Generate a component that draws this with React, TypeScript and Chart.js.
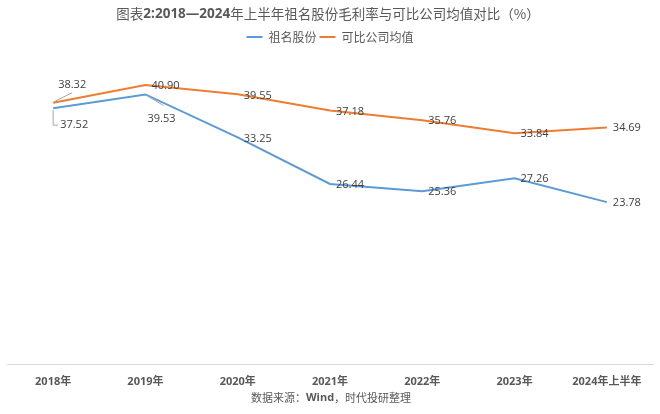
import React, { useEffect, useRef } from 'react';
import { Chart, registerables, layouts } from 'chart.js';

Chart.register(...registerables);

// ---- Data ----
const categories = ['2018年', '2019年', '2020年', '2021年', '2022年', '2023年', '2024年上半年'];
const seriesNames = ['祖名股份', '可比公司均值'];
const zumingValues = [37.52, 39.53, 33.25, 26.44, 25.36, 27.26, 23.78];
const peerAvgValues = [38.32, 40.9, 39.55, 37.18, 35.76, 33.84, 34.69];
const yMin = 0;
const yMax = 45;

const titleRuns = [
  { text: '图表', bold: false },
  { text: '2:2018—2024', bold: true },
  { text: '年上半年祖名股份毛利率与可比公司均值对比（%）', bold: false },
];
const sourceRuns = [
  { text: '数据来源：', bold: false },
  { text: 'Wind', bold: true },
  { text: '，时代投研整理', bold: false },
];

// ---- Styles ----
const CJK = '"Noto Sans CJK SC", "Noto Sans", sans-serif';
const LATIN = '"Open Sans", "Noto Sans CJK SC", sans-serif';
const TEXT_GRAY = '#595959';
const LABEL_GRAY = '#404040';
const LEADER_GRAY = '#a6a6a6';
const COLORS = ['#5B9BD5', '#ED7D31'];

// label offsets [dx, dy] relative to point, per dataset
const labelOffsets = [
  [[7, 17], [2, 24], [6, 1], [6, 1], [6, 1], [6, 1], [6, 1]],
  [[5, -18], [6, 1], [6, 1.5], [6, 1.5], [6, 1], [6, 1], [6, 0]],
];
// leader lines (relative polyline) keyed by dataset/point
const leaders: Record<string, number[][]> = {
  '0-0': [[0, 2], [0, 17], [5, 17]],
  '0-1': [[1, 1], [18, 11]],
  '1-0': [[1, -1], [19, -10]],
};

function drawRuns(ctx: CanvasRenderingContext2D, runs: { text: string; bold: boolean }[], cx: number, cy: number, size: number, color: string) {
  ctx.save();
  ctx.textBaseline = 'middle';
  ctx.textAlign = 'left';
  ctx.fillStyle = color;
  const fonts = runs.map((r) => (r.bold ? `bold ${size}px ${LATIN}` : `${size}px ${CJK}`));
  let total = 0;
  const widths = runs.map((r, i) => {
    ctx.font = fonts[i];
    const w = ctx.measureText(r.text).width;
    total += w;
    return w;
  });
  let x = cx - total / 2;
  runs.forEach((r, i) => {
    ctx.font = fonts[i];
    ctx.fillText(r.text, x, cy);
    x += widths[i];
  });
  ctx.restore();
}

const textPlugin = {
  id: 'customText',
  afterDraw(chart: any) {
    const ctx = chart.ctx as CanvasRenderingContext2D;
    drawRuns(ctx, titleRuns, 328, 14, 13.5, TEXT_GRAY);
    drawRuns(ctx, sourceRuns, 331, 398, 11, TEXT_GRAY);
  },
};

const dataLabelPlugin = {
  id: 'dataLabels',
  afterDatasetsDraw(chart: any) {
    const ctx = chart.ctx as CanvasRenderingContext2D;
    ctx.save();
    chart.data.datasets.forEach((ds: any, di: number) => {
      const meta = chart.getDatasetMeta(di);
      meta.data.forEach((pt: any, i: number) => {
        const key = `${di}-${i}`;
        const lead = leaders[key];
        if (lead) {
          ctx.strokeStyle = LEADER_GRAY;
          ctx.lineWidth = 1;
          ctx.beginPath();
          lead.forEach(([lx, ly], k) => {
            if (k === 0) ctx.moveTo(pt.x + lx, pt.y + ly);
            else ctx.lineTo(pt.x + lx, pt.y + ly);
          });
          ctx.stroke();
        }
        const [dx, dy] = labelOffsets[di][i];
        ctx.font = `11px ${LATIN}`;
        ctx.fillStyle = LABEL_GRAY;
        ctx.textAlign = 'left';
        ctx.textBaseline = 'middle';
        ctx.fillText(Number(ds.data[i]).toFixed(2), pt.x + dx, pt.y + dy);
      });
    });
    ctx.restore();
  },
};

const spacerPlugin = {
  id: 'legendSpacer',
  beforeInit(chart: any) {
    layouts.addBox(chart, {
      position: 'top',
      weight: 0,
      fullSize: true,
      options: {},
      left: 0,
      top: 0,
      right: 0,
      bottom: 0,
      width: 0,
      height: 0,
      isHorizontal() {
        return true;
      },
      update(maxWidth: number) {
        this.width = maxWidth;
        this.height = 4;
      },
      draw() {},
    } as any);
  },
};

export default function App() {
  const canvasRef = useRef<HTMLCanvasElement | null>(null);

  useEffect(() => {
    document.body.style.margin = '0';
    if (!canvasRef.current) return;
    const chart = new Chart(canvasRef.current, {
      type: 'line',
      data: {
        labels: categories,
        datasets: [
          {
            label: seriesNames[0],
            data: zumingValues,
            borderColor: COLORS[0],
            backgroundColor: COLORS[0],
            borderWidth: 2,
            pointRadius: 0,
            pointHoverRadius: 0,
            tension: 0,
            fill: false,
          },
          {
            label: seriesNames[1],
            data: peerAvgValues,
            borderColor: COLORS[1],
            backgroundColor: COLORS[1],
            borderWidth: 2,
            pointRadius: 0,
            pointHoverRadius: 0,
            tension: 0,
            fill: false,
          },
        ],
      },
      options: {
        animation: false,
        responsive: true,
        maintainAspectRatio: false,
        layout: { padding: { top: 28, left: 7, right: 7, bottom: 16 } },
        plugins: {
          title: { display: false },
          tooltip: { enabled: false },
          legend: {
            display: true,
            position: 'top',
            labels: {
              usePointStyle: true,
              pointStyle: 'line',
              pointStyleWidth: 16,
              padding: 3,
              color: TEXT_GRAY,
              font: { size: 12, family: CJK },
            },
          },
        },
        scales: {
          x: {
            offset: true,
            grid: { display: false, drawTicks: false },
            border: { display: true, color: '#d9d9d9', width: 1 },
            ticks: {
              color: TEXT_GRAY,
              font: { size: 11, weight: 'bold', family: LATIN },
              padding: 10,
              maxRotation: 0,
              autoSkip: false,
            },
          },
          y: { display: false, min: yMin, max: yMax },
        },
      },
      plugins: [spacerPlugin, dataLabelPlugin, textPlugin],
    });
    return () => chart.destroy();
  }, []);

  return (
    <div style={{ width: 660, height: 414, position: 'relative', background: '#fff' }}>
      <canvas ref={canvasRef} />
    </div>
  );
}
